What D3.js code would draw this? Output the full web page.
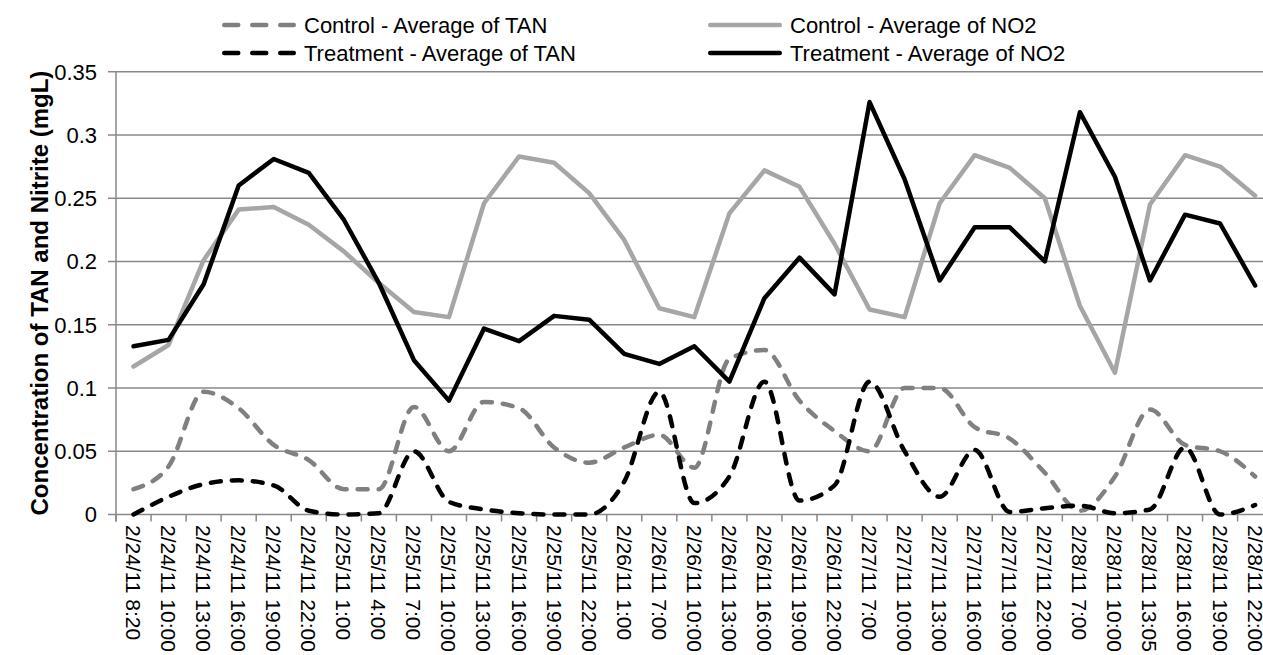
<!DOCTYPE html>
<html><head><meta charset="utf-8">
<script src="https://cdn.jsdelivr.net/npm/d3@7/dist/d3.min.js"></script>
<style>body{margin:0;background:#fff}svg{display:block}</style>
</head><body>
<svg id="c" width="1263" height="655"></svg>
<script>
const categories = ["2/24/11 8:20","2/24/11 10:00","2/24/11 13:00","2/24/11 16:00","2/24/11 19:00","2/24/11 22:00",
"2/25/11 1:00","2/25/11 4:00","2/25/11 7:00","2/25/11 10:00","2/25/11 13:00","2/25/11 16:00","2/25/11 19:00","2/25/11 22:00",
"2/26/11 1:00","2/26/11 7:00","2/26/11 10:00","2/26/11 13:00","2/26/11 16:00","2/26/11 19:00","2/26/11 22:00",
"2/27/11 7:00","2/27/11 10:00","2/27/11 13:00","2/27/11 16:00","2/27/11 19:00","2/27/11 22:00",
"2/28/11 7:00","2/28/11 10:00","2/28/11 13:05","2/28/11 16:00","2/28/11 19:00","2/28/11 22:00"];
const controlTAN = [0.02,0.038,0.097,0.084,0.055,0.043,0.02,0.02,0.085,0.05,0.089,0.084,0.053,0.041,0.053,0.063,0.037,0.123,0.13,0.09,0.066,0.05,0.1,0.1,0.069,0.06,0.033,0.003,0.03,0.083,0.055,0.05,0.03];
const treatmentTAN = [0,0.014,0.024,0.027,0.023,0.003,0,0.001,0.05,0.01,0.004,0.001,0,0,0.026,0.097,0.009,0.03,0.105,0.011,0.023,0.105,0.05,0.014,0.051,0.002,0.005,0.007,0.001,0.004,0.053,0,0.0075];
const controlNO2 = [0.117,0.134,0.201,0.241,0.243,0.229,0.208,0.183,0.16,0.156,0.246,0.283,0.278,0.254,0.217,0.163,0.156,0.238,0.272,0.259,0.214,0.162,0.156,0.246,0.284,0.274,0.25,0.165,0.112,0.245,0.284,0.275,0.252];
const treatmentNO2 = [0.133,0.138,0.182,0.26,0.281,0.27,0.233,0.183,0.122,0.09,0.147,0.137,0.157,0.154,0.127,0.119,0.133,0.105,0.171,0.203,0.174,0.326,0.265,0.185,0.227,0.227,0.2,0.318,0.267,0.185,0.237,0.23,0.181];
const yTicks = [0,0.05,0.1,0.15,0.2,0.25,0.3,0.35];
const seriesNames = ["Control - Average of TAN","Control - Average of NO2","Treatment - Average of TAN","Treatment - Average of NO2"];
const yTitle = "Concentration of TAN and Nitrite (mgL)";

const FONT = "'Liberation Sans', Arial, sans-serif";
const svg = d3.select("#c");
const plotLeft = 116, bw = 35.05, plotTop = 71.7, plotBottom = 514.5;
const x = d3.scaleBand().domain(categories).range([plotLeft, plotLeft + bw * categories.length]);
const y = d3.scaleLinear().domain([0, 0.35]).range([plotBottom, plotTop]);
const gridColor = "#898989";

svg.append("g").selectAll("line").data(yTicks).join("line")
  .attr("x1", plotLeft - 8).attr("x2", 1263)
  .attr("y1", d => y(d)).attr("y2", d => y(d))
  .attr("stroke", gridColor).attr("stroke-width", 1.5);
svg.append("line").attr("x1", plotLeft).attr("x2", plotLeft).attr("y1", y(0.35)).attr("y2", y(0) + 7)
  .attr("stroke", gridColor).attr("stroke-width", 1.5);
svg.append("g").selectAll("text").data(yTicks).join("text")
  .attr("x", plotLeft - 19).attr("y", d => y(d)).attr("dy", "0.36em")
  .attr("text-anchor", "end").attr("font-family", FONT).attr("font-size", 22).attr("fill", "#000")
  .text(d => d3.format("~g")(d));
const bounds = categories.map(c => x(c)).concat([x(categories[categories.length-1]) + x.bandwidth()]);
svg.append("g").selectAll("line").data(bounds).join("line")
  .attr("x1", d => d).attr("x2", d => d).attr("y1", y(0)).attr("y2", y(0) + 7)
  .attr("stroke", gridColor).attr("stroke-width", 1.5);
svg.append("g").selectAll("text").data(categories).join("text")
  .attr("transform", d => `translate(${x(d) + x.bandwidth()/2},${y(0) + 10.5}) rotate(90)`)
  .attr("dy", "0.36em").attr("text-anchor", "start")
  .attr("font-family", FONT).attr("font-size", 21).attr("fill", "#000")
  .text(d => d);
svg.append("text").attr("transform", `translate(39,${(plotTop+plotBottom)/2}) rotate(-90)`)
  .attr("text-anchor", "middle").attr("dy", "0.36em")
  .attr("font-family", FONT).attr("font-weight", "bold").attr("font-size", 24).attr("fill", "#000")
  .text(yTitle);

const cx = (d, i) => x(categories[i]) + x.bandwidth()/2;
const smooth = d3.line().x(cx).y(d => y(d)).curve(d3.curveMonotoneX);
const straight = d3.line().x(cx).y(d => y(d));
const styles = [
  {data: controlTAN, color: "#808080", dash: "10,11", gen: smooth},
  {data: controlNO2, color: "#a6a6a6", dash: null, gen: straight},
  {data: treatmentTAN, color: "#000000", dash: "10,11", gen: smooth},
  {data: treatmentNO2, color: "#000000", dash: null, gen: straight}
];
styles.forEach(s => {
  svg.append("path").attr("d", s.gen(s.data)).attr("fill", "none")
    .attr("stroke", s.color).attr("stroke-width", 4.5)
    .attr("stroke-linejoin", "round").attr("stroke-linecap", "round")
    .attr("stroke-dasharray", s.dash);
});

const legPos = [[222, 25], [708, 25], [222, 53], [708, 53]];
seriesNames.forEach((n, i) => {
  const s = styles[i], [lx, ly] = legPos[i];
  svg.append("line").attr("x1", lx + 2.25).attr("x2", lx + 71.75).attr("y1", ly).attr("y2", ly)
    .attr("stroke", s.color).attr("stroke-width", 4.5).attr("stroke-linecap", "round")
    .attr("stroke-dasharray", s.dash ? "14,14" : null);
  svg.append("text").attr("x", lx + 82).attr("y", ly).attr("dy", "0.36em")
    .attr("font-family", FONT).attr("font-size", 22).attr("fill", "#000").text(n);
});
</script>
</body></html>
